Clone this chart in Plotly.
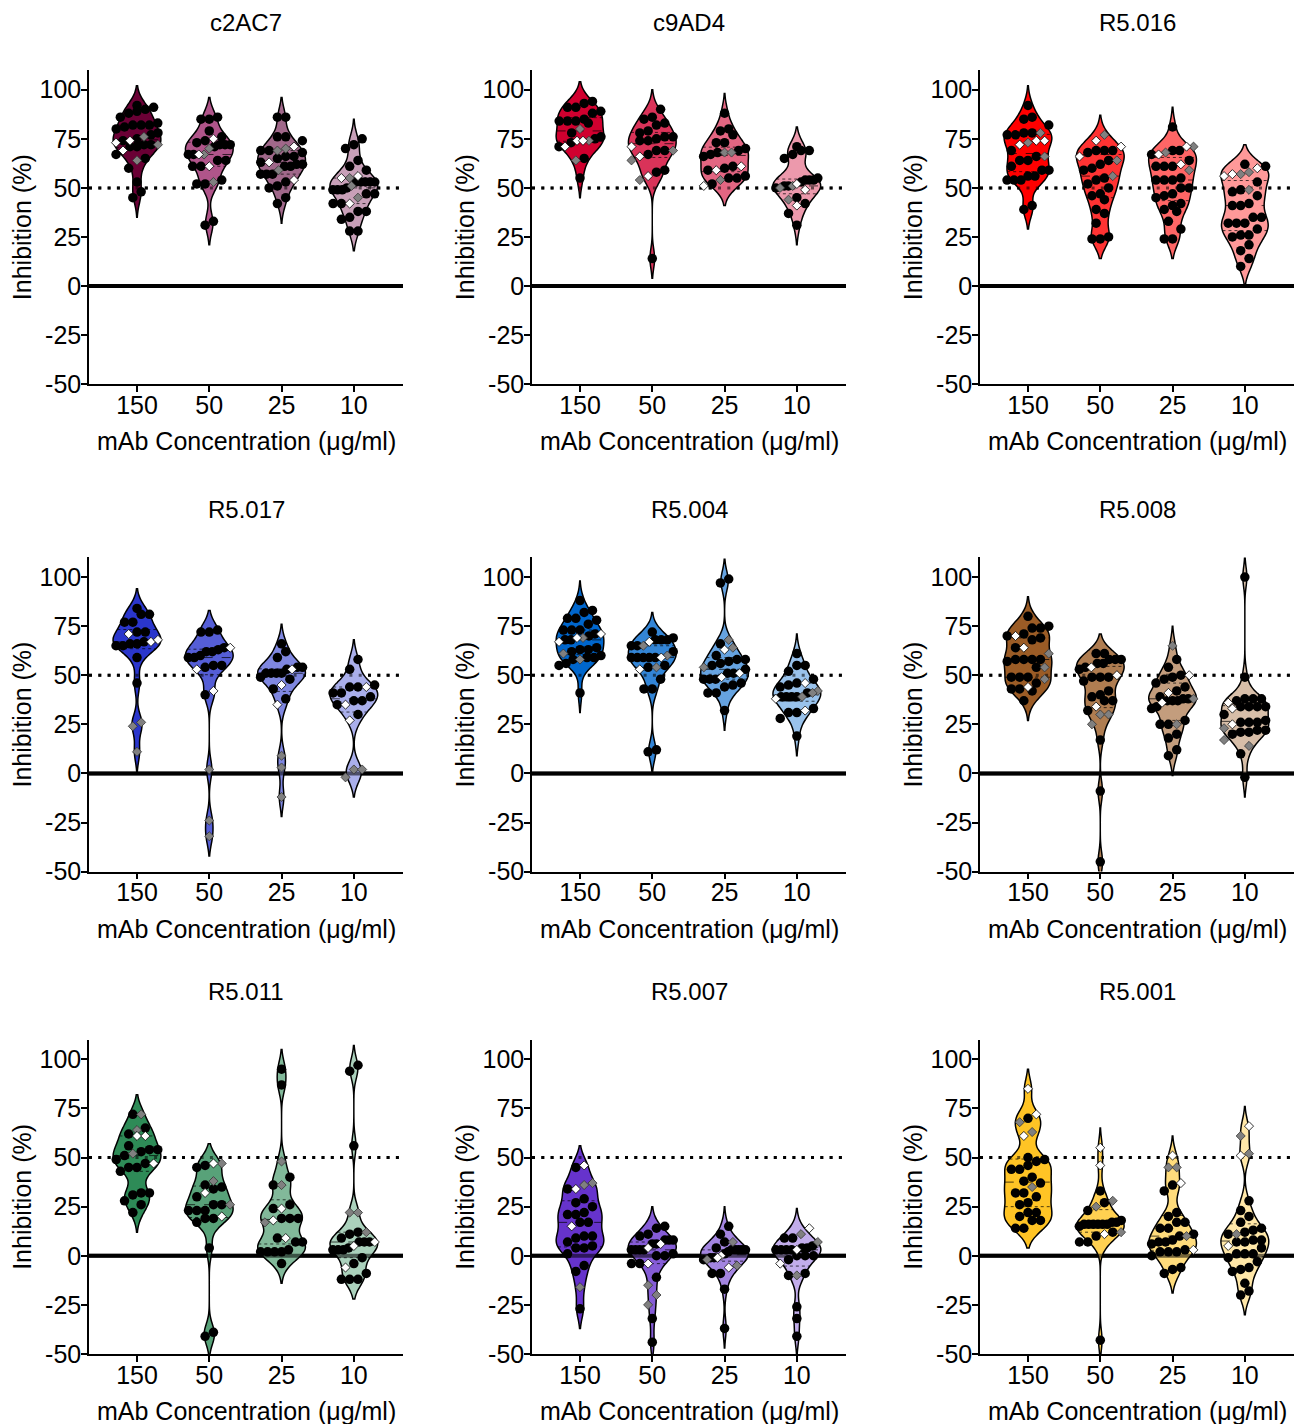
import numpy as np
import plotly.graph_objects as go

# ---------------- data ----------------
categories = ["150", "50", "25", "10"]
y_ticks = [-50, -25, 0, 25, 50, 75, 100]
panel_titles = ["c2AC7", "c9AD4", "R5.016", "R5.017", "R5.004", "R5.008", "R5.011", "R5.007", "R5.001"]
x_title = "mAb Concentration (\u03bcg/ml)"
y_title = "Inhibition (%)"
baseline_value = 0
threshold_value = 50

# each list: [150, 50, 25, 10] groups; black circles / white diamonds / gray diamonds
c2AC7_black = [[92, 91, 90, 89, 88, 86, 83, 82, 81, 82, 82, 80, 78, 75, 74, 77, 72, 72, 71, 71, 67, 65, 60, 53, 48, 45],
               [85, 86, 85, 79, 74, 73, 72, 76, 72, 72, 71, 67, 67, 64, 64, 61, 61, 54, 52, 52, 33, 31],
               [86, 86, 76, 76, 74, 69, 66, 66, 69, 68, 63, 61, 62, 62, 65, 61, 57, 57, 57, 53, 50, 51, 45, 42],
               [75, 72, 70, 64, 61, 59, 53, 53, 53, 53, 53, 50, 49, 49, 49, 47, 47, 42, 42, 38, 38, 34, 35, 28, 28]]
c2AC7_white = [[74, 73, 69], [75, 67, 61], [71, 63, 54], [56, 55, 42]]
c2AC7_gray = [[72, 76, 64], [70, 67, 53], [70, 69, 59], [51, 55, 45]]

c9AD4_black = [[94, 91, 93, 91, 89, 88, 84, 84, 84, 85, 83, 78, 76, 73, 75, 71, 65, 55],
               [90, 85, 86, 83, 76, 78, 82, 79, 76, 74, 75, 74, 67, 69, 69, 59, 58, 14],
               [88, 79, 80, 77, 73, 69, 70, 73, 68, 66, 67, 59, 61, 55, 56, 60, 55, 52],
               [69, 69, 71, 65, 67, 54, 54, 50, 51, 51, 54, 53, 45, 42, 37, 31, 55]]
c9AD4_white = [[71, 74, 74], [71, 66, 56], [61, 59, 51], [52, 49, 41]]
c9AD4_gray = [[80, 74, 64], [69, 64, 54], [68, 68, 54], [51, 50, 44]]

R5016_black = [[92, 86, 85, 82, 78, 77, 77, 78, 69, 66, 64, 64, 61, 59, 59, 56, 54, 54, 54, 56, 39, 41],
               [69, 69, 69, 68, 62, 64, 60, 59, 55, 52, 54, 50, 47, 46, 44, 39, 37, 32, 25, 24, 24],
               [81, 69, 69, 67, 64, 61, 61, 61, 55, 54, 54, 54, 50, 50, 47, 45, 46, 42, 41, 38, 39, 33, 29, 24, 24],
               [62, 61, 53, 48, 46, 49, 42, 41, 41, 35, 35, 32, 32, 32, 29, 26, 26, 25, 21, 18, 14, 10]]
R5016_white = [[74, 72, 74], [71, 74, 66], [71, 67, 62], [60, 56, 57]]
R5016_gray = [[78, 73, 66], [77, 64, 56], [68, 71, 59], [57, 58, 49]]

R5017_black = [[84, 81, 81, 77, 77, 72, 72, 67, 66, 65, 65, 66, 59, 46],
               [72, 72, 73, 62, 64, 63, 62, 60, 59, 59, 55, 54, 55, 40],
               [66, 62, 59, 54, 51, 53, 51, 51, 51, 54, 49, 48, 43, 38],
               [58, 53, 45, 44, 44, 41, 39, 41, 37, 37, 35, 30]]
R5017_white = [[67, 71, 68], [64, 53, 42], [53, 45, 35], [44, 35, 27]]
R5017_gray = [[26, 24, 11], [2, -24, -32], [9, 3, -12], [2, 2, -2]]

R5004_black = [[88, 83, 82, 79, 79, 78, 73, 76, 73, 73, 68, 71, 70, 68, 64, 63, 63, 62, 58, 59, 60, 59, 55, 56, 41],
               [72, 69, 68, 68, 68, 65, 65, 62, 59, 59, 59, 59, 59, 54, 55, 48, 43, 43, 11, 12],
               [97, 99, 66, 58, 57, 58, 60, 56, 51, 55, 53, 51, 46, 48, 44, 48, 48, 45, 41, 41, 32],
               [61, 55, 55, 48, 52, 44, 46, 45, 41, 39, 39, 39, 39, 33, 31, 31, 28, 19]]
R5004_white = [[71, 67, 69], [67, 59, 53], [63, 51, 49], [46, 38, 32]]
R5004_gray = [[61, 58, 69], [65, 60, 54], [64, 68, 54], [42, 41, 39]]

R5008_black = [[80, 75, 74, 74, 71, 70, 69, 68, 64, 58, 58, 58, 58, 57, 54, 49, 49, 49, 46, 43, 42, 43, 37],
               [58, 58, 58, 56, 61, 56, 54, 53, 49, 49, 47, 49, 40, 42, 37, 39, 37, 32, 17, -9, -45, 61],
               [58, 54, 49, 48, 50, 44, 46, 42, 39, 37, 37, 38, 38, 37, 34, 33, 27, 25, 25, 20, 18, 12, 9],
               [100, 49, 38, 38, 38, 34, 34, 34, 34, 37, 30, 27, 26, 26, 26, 22, 21, 21, 22, 20, 10, -2]]
R5008_white = [[70, 64, 44], [54, 50, 34], [50, 41, 36], [36, 33, 25]]
R5008_gray = [[61, 54, 48], [30, 30, 25], [65, 38, 25], [23, 14, 17]]

R5011_black = [[72, 65, 62, 54, 54, 56, 53, 51, 49, 47, 45, 45, 43, 32, 32, 31, 28, 26, 22],
               [46, 45, 35, 36, 34, 30, 26, 26, 23, 23, 23, 19, 19, 17, 4, -41, -39],
               [95, 87, 40, 36, 26, 19, 19, 19, 7, 7, 9, 3, 2, 2, 2, 2, -4, 24],
               [94, 97, 56, 11, 9, 7, 7, 7, 12, 4, 3, 3, 3, -1, -4, -9, -12, -12, -12]]
R5011_white = [[61, 61, 47], [47, 32, 20], [24, 18, 9], [5, 7, -6]]
R5011_gray = [[72, 64, 52], [47, 38, 26], [48, 36, 17], [22, 22, 12]]

R5007_black = [[45, 34, 29, 27, 25, 21, 22, 21, 17, 17, 10, 7, 9, 10, 4, 5, 4, 1, -5, -8, -27],
               [14, 15, 11, 8, 8, 10, 8, 6, 3, 3, 6, 3, 3, 0, 0, 1, -4, -4, -11, -32, -44],
               [15, 11, 7, 3, 3, 3, 3, 4, 2, 1, -1, -1, -2, -9, -9, -17, -37, 3],
               [9, 9, 4, 3, 4, 3, 3, 3, 5, 0, 0, 0, -2, -9, -10, -26, -32, -41]]
R5007_white = [[46, 34, 15], [6, 4, -4], [0, -1, -6], [14, 3, -4]]
R5007_gray = [[36, 37, -16], [-15, -20, -25], [7, -2, -5], [11, 7, -10]]

R5001_black = [[70, 50, 48, 49, 46, 44, 44, 40, 37, 38, 32, 30, 32, 27, 26, 22, 22, 20, 18, 18, 14, 14],
               [33, 27, 23, 18, 16, 16, 16, 15, 16, 17, 16, 12, 10, 7, 7, -43, 17, 16],
               [36, 33, 22, 20, 14, 17, 17, 14, 8, 7, 6, 10, 11, 7, 2, 2, 0, 2, 3, -6, -9, -7],
               [28, 23, 20, 17, 13, 12, 14, 11, 8, 8, 7, 4, 1, 7, 1, -1, -6, -8, -7, -14, -20, -18, -3, 1]]
R5001_white = [[85, 72, 61], [55, 46, 11], [51, 37, 3], [66, 51, 5]]
R5001_gray = [[68, 63, 35], [28, 25, 12], [45, 45, 10], [61, 52, 11]]

# violin colours per concentration (150, 50, 25, 10)
c2AC7_colors = ["#6a0035", "#b0558a", "#a0688a", "#c8a0b8"]
c9AD4_colors = ["#d0002f", "#d93359", "#e36682", "#ec99ac"]
R5016_colors = ["#ff0000", "#ff3333", "#ff6666", "#ff9999"]
R5017_colors = ["#2a36cc", "#555ed6", "#7f87e0", "#aaafeb"]
R5004_colors = ["#0066cc", "#3385d6", "#66a3e0", "#99c2eb"]
R5008_colors = ["#9b5c26", "#af7d51", "#c39d7d", "#d7bea8"]
R5011_colors = ["#2e8b57", "#58a279", "#82b99a", "#abd1bc"]
R5007_colors = ["#6633cc", "#855cd6", "#a385e0", "#c2adeb"]
R5001_colors = ["#ffc425", "#ffd051", "#ffdc7c", "#ffe7a8"]

panels = [
    (c2AC7_black, c2AC7_white, c2AC7_gray, c2AC7_colors),
    (c9AD4_black, c9AD4_white, c9AD4_gray, c9AD4_colors),
    (R5016_black, R5016_white, R5016_gray, R5016_colors),
    (R5017_black, R5017_white, R5017_gray, R5017_colors),
    (R5004_black, R5004_white, R5004_gray, R5004_colors),
    (R5008_black, R5008_white, R5008_gray, R5008_colors),
    (R5011_black, R5011_white, R5011_gray, R5011_colors),
    (R5007_black, R5007_white, R5007_gray, R5007_colors),
    (R5001_black, R5001_white, R5001_gray, R5001_colors),
]

# ---------------- styling / geometry ----------------
W, H = 1294, 1424          # target picture size (positions below are in these pixels)
H_FIG = 1439               # figure height; the capture is scaled to H vertically
FONT = "Liberation Sans, Arial, sans-serif"
FS = 25
col_left_px = [89, 532, 980]
row_bottom_px = [384, 871, 1353]
plot_w_px = 314
plot_h_px = 314
x_range = [-0.664, 3.68]
y_range = [-50, 110]
violin_width = 0.66
bw = 5.0
DOT = "3px,6.3px"


def swarm_offsets(values, row_h=5.0, step=0.115, max_span=0.58):
    v = np.asarray(values, dtype=float)
    order = np.argsort(v, kind="stable")
    sv = v[order]
    rows, cur = [], [0]
    for j in range(1, len(sv)):
        if sv[j] - sv[cur[0]] <= row_h:
            cur.append(j)
        else:
            rows.append(cur)
            cur = [j]
    rows.append(cur)
    offs = np.zeros(len(v))
    for row in rows:
        n = len(row)
        st = step if n <= 1 else min(step, max_span / (n - 1))
        for m, j in enumerate(row):
            offs[order[j]] = (m - (n - 1) / 2) * st
    return offs


def kde_halfwidth(values, yq):
    v = np.asarray(values, dtype=float)
    grid = np.linspace(v.min() - 2 * bw, v.max() + 2 * bw, 600)
    dens = lambda y: np.exp(-0.5 * ((y - v) / bw) ** 2).sum()
    dmax = max(dens(g) for g in grid)
    return dens(yq) / dmax * violin_width / 2


fig = go.Figure()
shapes, annotations = [], []
layout_axes = {}

for k, (blk, wht, gry, cols) in enumerate(panels):
    r, c = divmod(k, 3)
    sfx = "" if k == 0 else str(k + 1)
    xa, ya = "x" + sfx, "y" + sfx

    x0p = col_left_px[c] / W
    x1p = min(1.0, (col_left_px[c] + plot_w_px) / W)
    y0p = 1 - row_bottom_px[r] / H
    y1p = 1 - (row_bottom_px[r] - plot_h_px) / H

    layout_axes["xaxis" + sfx] = dict(
        domain=[x0p, x1p], anchor=ya, range=x_range, tickvals=list(range(len(categories))),
        ticktext=categories, showline=True, linecolor="black", linewidth=1.5,
        ticks="outside", ticklen=6, tickwidth=1.5, tickcolor="black", ticklabelstandoff=-8,
        showgrid=False, zeroline=False, fixedrange=True,
        tickfont=dict(family=FONT, size=FS, color="black"))
    layout_axes["yaxis" + sfx] = dict(
        domain=[y0p, y1p], anchor=xa, range=y_range, tickvals=y_ticks,
        ticktext=[str(t) for t in y_ticks], showline=True, linecolor="black", linewidth=1.5,
        ticks="outside", ticklen=6, tickwidth=1.5, tickcolor="black", ticklabelstandoff=-5,
        showgrid=False, zeroline=False, fixedrange=True,
        tickfont=dict(family=FONT, size=FS, color="black"))

    # reference lines, solid black under the violins
    shapes.append(dict(type="line", xref=xa + " domain", yref=ya, x0=0, x1=1,
                       y0=baseline_value, y1=baseline_value,
                       line=dict(color="black", width=4), layer="below"))
    shapes.append(dict(type="line", xref=xa + " domain", yref=ya, x0=0, x1=1,
                       y0=threshold_value, y1=threshold_value,
                       line=dict(color="black", width=3, dash=DOT), layer="below"))

    pts = {"b": ([], []), "w": ([], []), "g": ([], [])}
    for g in range(len(categories)):
        vals = list(blk[g]) + list(wht[g]) + list(gry[g])
        kinds = ["b"] * len(blk[g]) + ["w"] * len(wht[g]) + ["g"] * len(gry[g])
        fig.add_trace(go.Violin(
            x=[g] * len(vals), y=vals, xaxis=xa, yaxis=ya, width=violin_width,
            scalemode="width", bandwidth=bw, spanmode="soft", points=False,
            fillcolor=cols[g], line=dict(color="black", width=1.5),
            showlegend=False, hoverinfo="skip"))
        # median (dashed) and quartiles (dotted)
        for q, dash in ((50, "dash"), (25, "dot"), (75, "dot")):
            yq = float(np.percentile(vals, q))
            hw = kde_halfwidth(vals, yq)
            fig.add_trace(go.Scatter(x=[g - hw, g + hw], y=[yq, yq], xaxis=xa, yaxis=ya,
                                     mode="lines", line=dict(color="rgba(0,0,0,0.7)", width=1, dash=dash),
                                     showlegend=False, hoverinfo="skip"))
        offs = swarm_offsets(vals)
        for v, o, kd in zip(vals, offs, kinds):
            pts[kd][0].append(g + o)
            pts[kd][1].append(v)

    # the same reference lines, half-transparent, over the violins (seen through the fill)
    fig.add_trace(go.Scatter(x=x_range, y=[baseline_value] * 2, xaxis=xa, yaxis=ya, mode="lines",
                             line=dict(color="rgba(0,0,0,0.55)", width=4),
                             showlegend=False, hoverinfo="skip"))
    fig.add_trace(go.Scatter(x=x_range, y=[threshold_value] * 2, xaxis=xa, yaxis=ya, mode="lines",
                             line=dict(color="rgba(0,0,0,0.55)", width=3, dash=DOT),
                             showlegend=False, hoverinfo="skip"))

    fig.add_trace(go.Scatter(x=pts["b"][0], y=pts["b"][1], xaxis=xa, yaxis=ya, mode="markers",
                             marker=dict(symbol="circle", size=9.5, color="black", line=dict(width=0)),
                             showlegend=False, hoverinfo="y"))
    fig.add_trace(go.Scatter(x=pts["g"][0], y=pts["g"][1], xaxis=xa, yaxis=ya, mode="markers",
                             marker=dict(symbol="diamond", size=7, color="#808080",
                                         line=dict(width=0.8, color="#333333")),
                             showlegend=False, hoverinfo="y"))
    fig.add_trace(go.Scatter(x=pts["w"][0], y=pts["w"][1], xaxis=xa, yaxis=ya, mode="markers",
                             marker=dict(symbol="diamond", size=7, color="white",
                                         line=dict(width=0.8, color="black")),
                             showlegend=False, hoverinfo="y"))

    top_px = row_bottom_px[r] - plot_h_px
    xc = (x0p + x1p) / 2
    annotations.append(dict(text=panel_titles[k], xref="paper", yref="paper", x=xc,
                            y=1 - (top_px - 48) / H, xanchor="center", yanchor="middle",
                            showarrow=False, font=dict(family=FONT, size=24, color="black")))
    annotations.append(dict(text=x_title, xref="paper", yref="paper", x=xc,
                            y=1 - (row_bottom_px[r] + 57) / H, xanchor="center", yanchor="middle",
                            showarrow=False, font=dict(family=FONT, size=FS, color="black")))
    annotations.append(dict(text=y_title, xref="paper", yref="paper",
                            x=(col_left_px[c] - 67) / W, y=(y0p + y1p) / 2, textangle=-90,
                            xanchor="center", yanchor="middle",
                            showarrow=False, font=dict(family=FONT, size=FS, color="black")))

fig.update_layout(
    width=W, height=H_FIG, margin=dict(l=0, r=0, t=0, b=0),
    paper_bgcolor="white", plot_bgcolor="white", showlegend=False,
    violinmode="overlay", font=dict(family=FONT, size=FS, color="black"),
    shapes=shapes, annotations=annotations, **layout_axes)

page_fix = ("document.documentElement.style.margin='0px';document.body.style.margin='0px';"
            "document.documentElement.style.overflow='hidden';document.body.style.overflow='hidden';"
            "var gd=document.getElementById('{plot_id}');gd.style.position='fixed';"
            "gd.style.left='0px';gd.style.top='0px';")
fig.write_html("out.html", config={"displayModeBar": False}, post_script=page_fix)
